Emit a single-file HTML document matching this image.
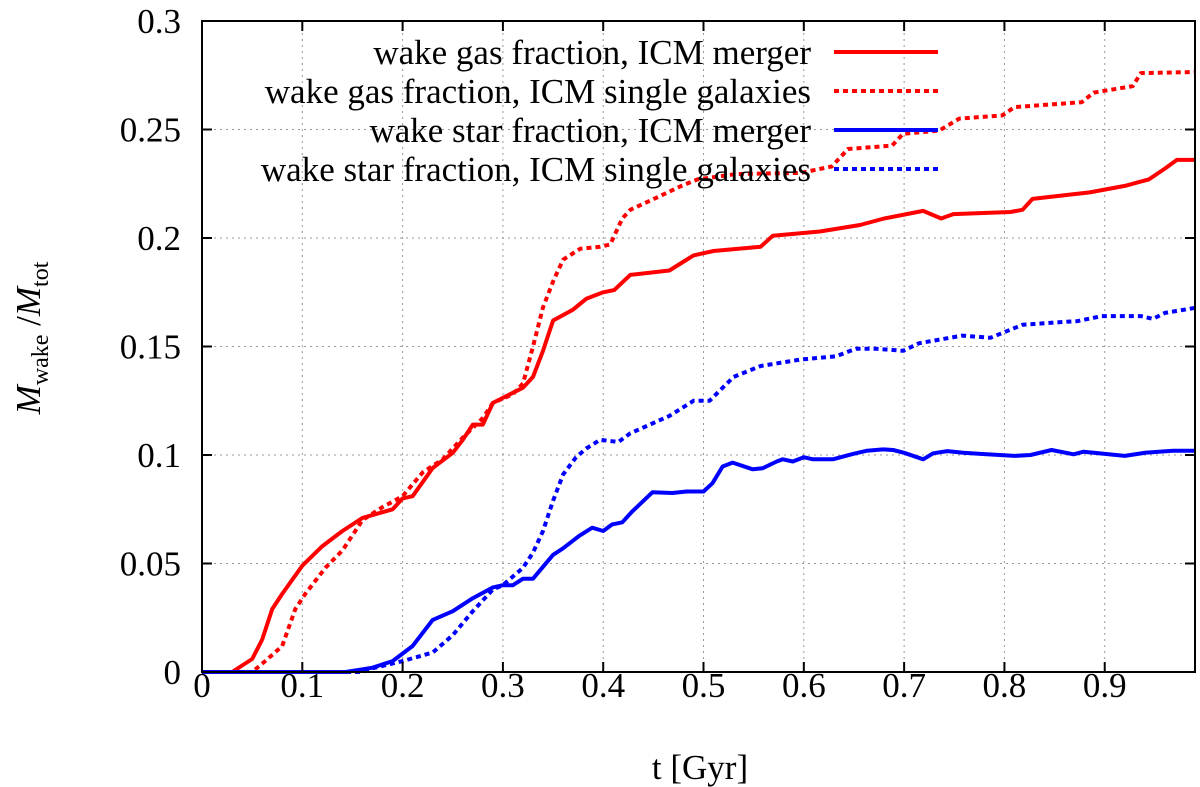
<!DOCTYPE html>
<html><head><meta charset="utf-8">
<style>
html,body{margin:0;padding:0;background:#fff;}
svg{display:block;}
text{font-family:"Liberation Serif","DejaVu Serif",serif;fill:#000;}
</style></head>
<body>
<svg id="chart" width="1200" height="787" viewBox="0 0 1200 787" xmlns="http://www.w3.org/2000/svg">
<g id="grid"></g>
<g id="series"></g>
<rect x="202" y="21" width="993" height="651" fill="none" stroke="#000" stroke-width="2"/>
<g id="ticks"></g>
<g id="legend"></g>
<text x="700" y="779" font-size="35" text-anchor="middle">t [Gyr]</text>
<text transform="translate(40,338) rotate(-90)" font-size="35" text-anchor="middle"><tspan font-style="italic">M</tspan><tspan font-size="24" dy="8">wake</tspan><tspan dy="-8"> /</tspan><tspan font-style="italic">M</tspan><tspan font-size="24" dy="8">tot</tspan></text>
</svg>
<script>
const xTicks = [0,0.1,0.2,0.3,0.4,0.5,0.6,0.7,0.8,0.9];
const xTickLabels = ["0","0.1","0.2","0.3","0.4","0.5","0.6","0.7","0.8","0.9"];
const yTicks = [0,0.05,0.1,0.15,0.2,0.25,0.3];
const yTickLabels = ["0","0.05","0.1","0.15","0.2","0.25","0.3"];
const seriesNames = ["wake gas fraction, ICM merger","wake gas fraction, ICM single galaxies","wake star fraction, ICM merger","wake star fraction, ICM single galaxies"];

const gasMergerT = [0,0.03,0.05,0.06,0.07,0.08,0.1,0.12,0.14,0.16,0.19,0.2,0.21,0.23,0.25,0.26,0.27,0.28,0.29,0.32,0.33,0.34,0.35,0.37,0.383,0.4,0.411,0.427,0.466,0.49,0.51,0.557,0.569,0.616,0.656,0.68,0.719,0.737,0.749,0.806,0.818,0.828,0.885,0.92,0.944,0.96,0.972,0.99];
const gasMergerV = [0,0,0.006,0.015,0.029,0.036,0.049,0.058,0.065,0.071,0.075,0.080,0.081,0.094,0.101,0.107,0.114,0.114,0.124,0.131,0.136,0.148,0.162,0.167,0.172,0.175,0.176,0.183,0.185,0.192,0.194,0.196,0.201,0.203,0.206,0.209,0.2125,0.209,0.211,0.212,0.213,0.218,0.221,0.224,0.227,0.232,0.236,0.236];

const gasSingleT = [0,0.05,0.063,0.08,0.093,0.103,0.123,0.14,0.16,0.18,0.2,0.22,0.24,0.26,0.28,0.29,0.31,0.32,0.33,0.34,0.35,0.36,0.377,0.397,0.407,0.419,0.427,0.455,0.478,0.494,0.533,0.597,0.628,0.644,0.688,0.699,0.735,0.755,0.798,0.81,0.877,0.889,0.928,0.936,0.99];
const gasSingleV = [0,0,0.005,0.012,0.029,0.036,0.048,0.056,0.070,0.076,0.081,0.092,0.098,0.108,0.117,0.124,0.128,0.133,0.150,0.168,0.180,0.190,0.195,0.196,0.197,0.209,0.213,0.219,0.224,0.227,0.2295,0.230,0.233,0.241,0.2426,0.248,0.2495,0.255,0.2565,0.2603,0.2626,0.267,0.270,0.276,0.2765];

const starMergerT = [0,0.143,0.16,0.17,0.19,0.21,0.23,0.25,0.27,0.29,0.3,0.31,0.32,0.33,0.35,0.36,0.376,0.389,0.4,0.409,0.419,0.429,0.449,0.469,0.483,0.5,0.509,0.519,0.529,0.549,0.559,0.573,0.579,0.589,0.6,0.609,0.629,0.649,0.663,0.679,0.689,0.7,0.719,0.729,0.743,0.759,0.776,0.81,0.826,0.847,0.869,0.879,0.92,0.94,0.968,0.99];
const starMergerV = [0,0,0.0012,0.002,0.005,0.012,0.024,0.028,0.034,0.039,0.040,0.040,0.043,0.043,0.054,0.057,0.0627,0.0665,0.065,0.068,0.069,0.074,0.0828,0.0825,0.0832,0.0832,0.087,0.0947,0.0965,0.0934,0.0939,0.097,0.098,0.097,0.099,0.098,0.098,0.1005,0.102,0.1026,0.1023,0.101,0.098,0.1008,0.1018,0.101,0.1005,0.0996,0.1,0.1023,0.1003,0.1015,0.0996,0.101,0.102,0.102];

const starSingleT = [0,0.16,0.17,0.2,0.23,0.25,0.27,0.29,0.3,0.32,0.33,0.34,0.35,0.36,0.373,0.383,0.397,0.415,0.427,0.466,0.49,0.506,0.53,0.557,0.597,0.632,0.652,0.672,0.699,0.715,0.758,0.786,0.818,0.849,0.873,0.897,0.936,0.948,0.96,0.99];
const starSingleV = [0,0,0.0017,0.005,0.009,0.017,0.028,0.038,0.040,0.048,0.055,0.065,0.079,0.091,0.099,0.103,0.107,0.106,0.110,0.118,0.125,0.125,0.136,0.141,0.144,0.1455,0.149,0.149,0.148,0.1515,0.155,0.154,0.160,0.161,0.1617,0.164,0.164,0.1627,0.1655,0.1678];

const X0=202, X1=1195, Y0=672, Y1=21, TMAX=0.99, VMAX=0.3;
function xs(t){return X0+(X1-X0)*t/TMAX;}
function ys(v){return Y0-(Y0-Y1)*v/VMAX;}
const NS="http://www.w3.org/2000/svg";
function mk(tag,attrs,parent){const e=document.createElementNS(NS,tag);for(const k in attrs)e.setAttribute(k,attrs[k]);parent.appendChild(e);return e;}

const grid=document.getElementById('grid'), ticks=document.getElementById('ticks');
xTicks.forEach((t,i)=>{
  const x=xs(t);
  if(i>0){const g=mk('line',{x1:x,y1:Y1,x2:x,y2:Y0,stroke:'#999','stroke-width':1,'stroke-dasharray':'2,4'},grid);
  
  }
  const tb=mk('line',{x1:x,y1:Y0,x2:x,y2:Y0-10,stroke:'#000','stroke-width':2},ticks);
  
  
  const tt=mk('line',{x1:x,y1:Y1,x2:x,y2:Y1+10,stroke:'#000','stroke-width':2},ticks);
  
  
  const lb=mk('text',{x:x,y:697,'font-size':35,'text-anchor':'middle'},ticks);
  lb.textContent=xTickLabels[i];
  
  
});
yTicks.forEach((v,i)=>{
  const y=ys(v);
  if(i>0&&i<yTicks.length-1){const g=mk('line',{x1:X0,y1:y,x2:X1,y2:y,stroke:'#999','stroke-width':1,'stroke-dasharray':'2,4'},grid);
  
  }
  const tl=mk('line',{x1:X0,y1:y,x2:X0+10,y2:y,stroke:'#000','stroke-width':2},ticks);
  
  
  const tr=mk('line',{x1:X1,y1:y,x2:X1-10,y2:y,stroke:'#000','stroke-width':2},ticks);
  
  
  const lb=mk('text',{x:181,y:y+12,'font-size':35,'text-anchor':'end'},ticks);
  lb.textContent=yTickLabels[i];
  
  
});

const seriesT=[gasMergerT,gasSingleT,starMergerT,starSingleT];
const seriesV=[gasMergerV,gasSingleV,starMergerV,starSingleV];
const colors=['#ff0000','#ff0000','#0000ff','#0000ff'];
const dashes=['none','5,4','none','5,4'];
const keys=['gas-merger','gas-single','star-merger','star-single'];
const sg=document.getElementById('series'), lg=document.getElementById('legend');
seriesT.forEach((T,i)=>{
  const pts=T.map((t,j)=>xs(t).toFixed(1)+','+ys(seriesV[i][j]).toFixed(1)).join(' ');
  const pl=mk('polyline',{points:pts,fill:'none',stroke:colors[i],'stroke-width':4,'stroke-dasharray':dashes[i],'stroke-linejoin':'round'},sg);
  
  
  const ly=52+39*i;
  const t=mk('text',{x:811,y:ly+12,'font-size':35,'text-anchor':'end'},lg);
  t.textContent=seriesNames[i];
  
  
  const s=mk('line',{x1:834,y1:ly,x2:938,y2:ly,stroke:colors[i],'stroke-width':4,'stroke-dasharray':dashes[i]},lg);
  
  
});
</script>
</body></html>
